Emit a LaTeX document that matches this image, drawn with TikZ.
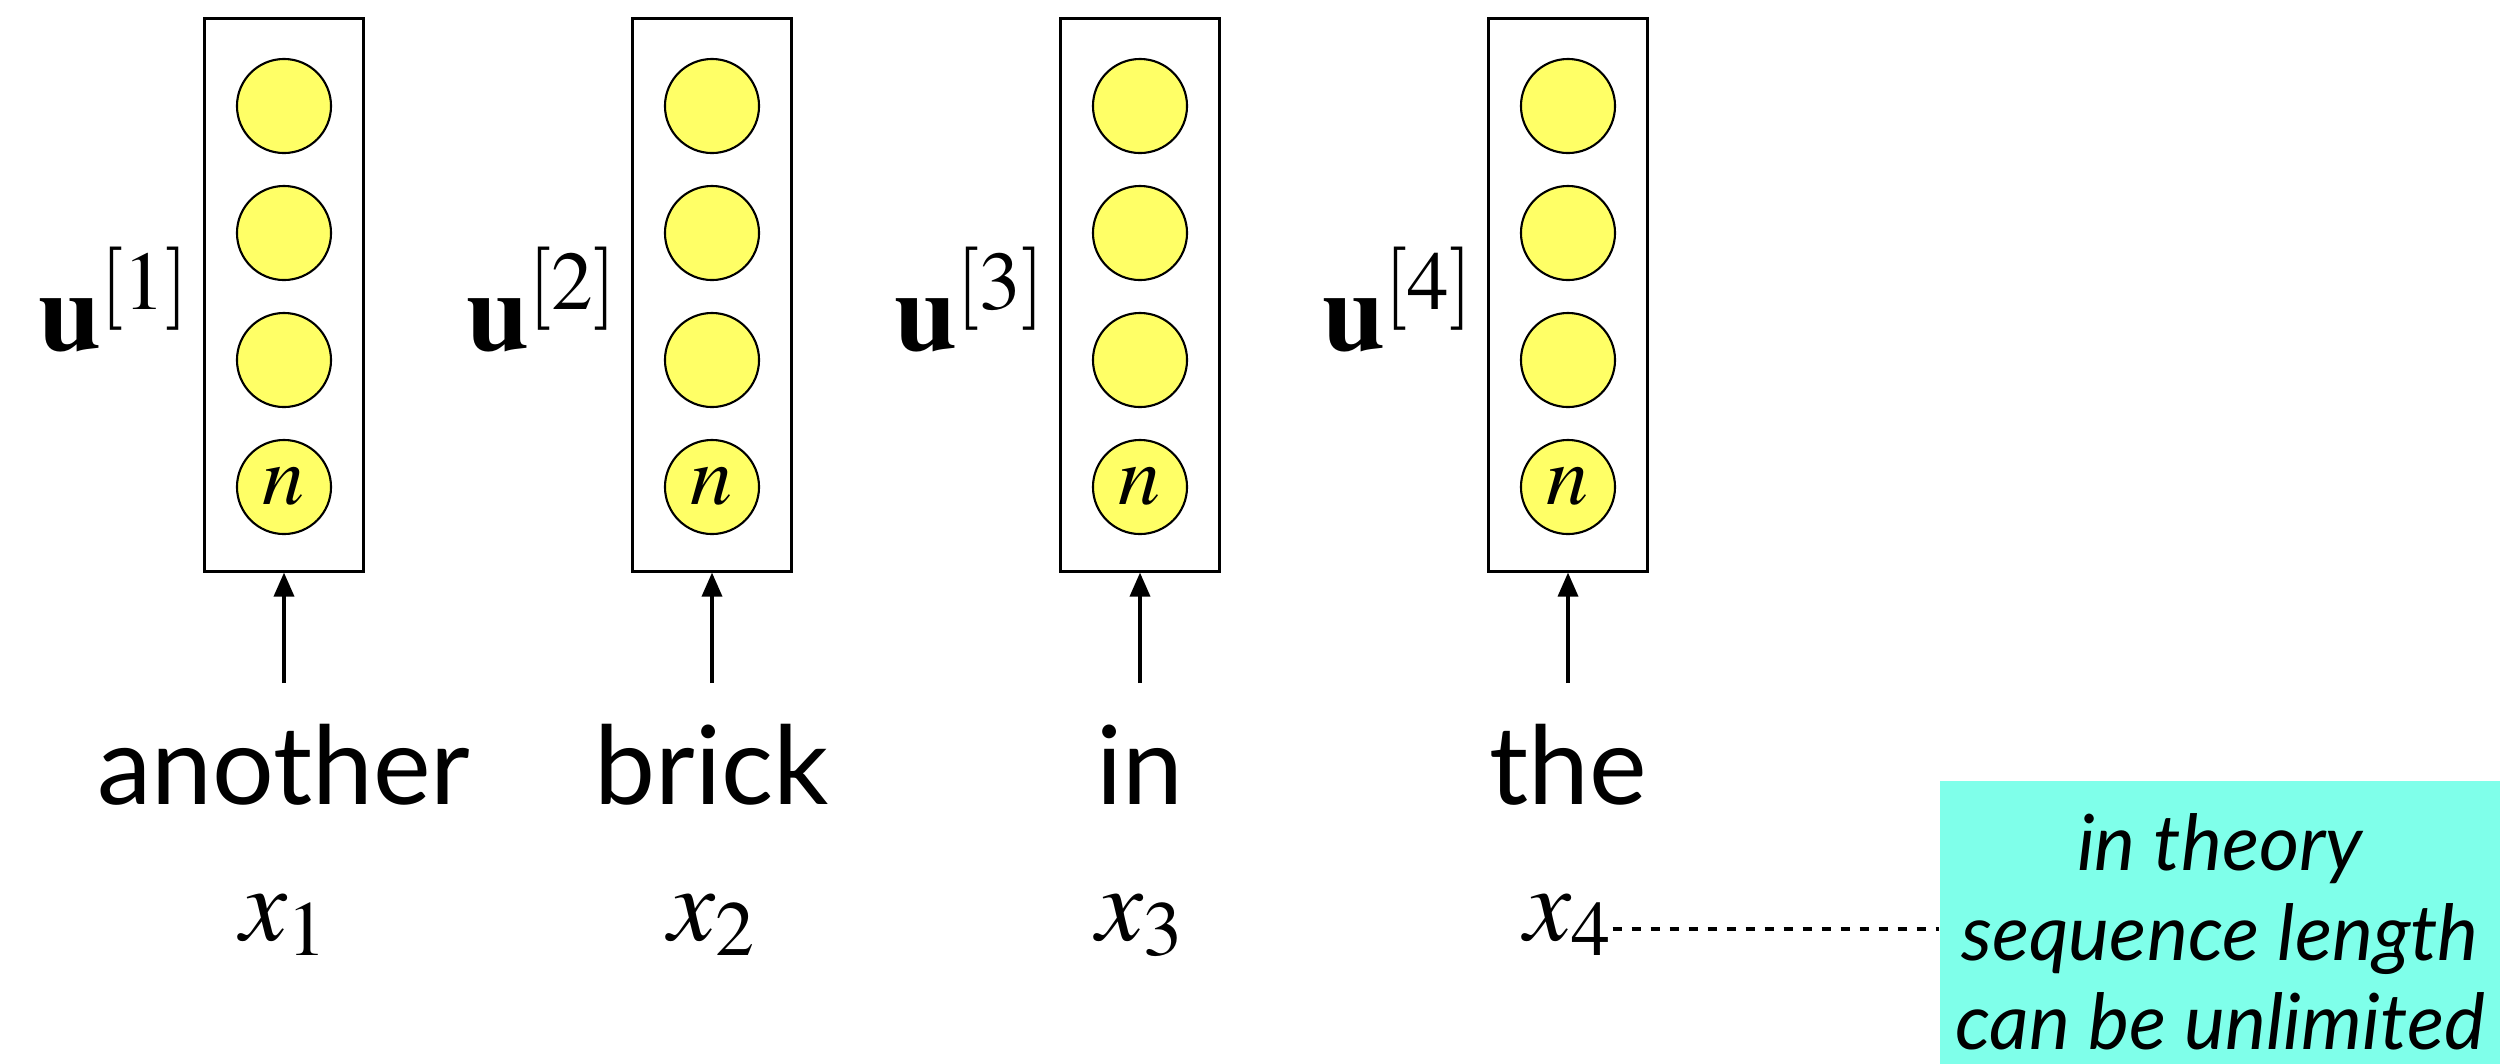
\documentclass[tikz,border=0pt]{standalone}
\usepackage{mathptmx}
\usepackage{fontspec}
\setmainfont{Lato}
\usetikzlibrary{arrows.meta}
\definecolor{cyanbox}{HTML}{7FFFEA}
\definecolor{neuron}{HTML}{FFFF66}
\begin{document}
\begin{tikzpicture}[x=0.01cm,y=-0.01cm,
  layer/.style={draw, line width=0.8pt, minimum width=1.59cm, minimum height=5.52cm, inner sep=0pt},
  neu/.style={circle, draw, fill=neuron, line width=0.6pt, minimum size=0.94cm, inner sep=0pt, font=\fontsize{24}{28}\selectfont},
  word/.style={font=\fontsize{31}{36}\selectfont, anchor=base, inner sep=0pt},
  xlab/.style={font=\fontsize{30}{36}\selectfont, anchor=base, inner sep=0pt},
  ulab/.style={font=\fontsize{32}{38}\selectfont, anchor=base east, inner sep=0pt},
  inarrow/.style={-{Triangle[length=0.24cm, width=0.2cm]}, line width=1pt},
  note/.style={fill=cyanbox, minimum width=5.6cm, minimum height=3.02cm, align=center, inner sep=0pt,
    font=\fontsize{22}{25.5}\selectfont\itshape},
  dotline/.style={line width=1.4pt, dash pattern=on 0.09cm off 0.1cm}]
\useasboundingbox (0,0) rectangle (2520,1063);
\foreach \i/\x/\w in {1/284/another,2/712/brick,3/1140/in,4/1568/the}{
  \node[layer] (L\i) at (\x,295) {};
  \node[neu] (a\i) at (\x,106) {};
  \node[neu] (b\i) at (\x,233) {};
  \node[neu] (c\i) at (\x,360) {};
  \node[neu] (d\i) at (\x,487) {$n$};
  \node[ulab] (u\i) at (\x-93,350) {$\mathbf{u}^{[\i]}$};
  \node[word] (w\i) at (\x,804) {\w};
  \node[xlab] (x\i) at (\x,940) {$x_{\i}$};
  \coordinate (s\i) at (\x,683);
  \draw[inarrow] (s\i) -- (L\i.south);
}
\node[note] (nt) at (2220,932) {in theory\\sequence length\\can be unlimited};
\draw[dotline] (x4.east |- 0,929) -- (nt.west |- 0,929);
\end{tikzpicture}
\end{document}
